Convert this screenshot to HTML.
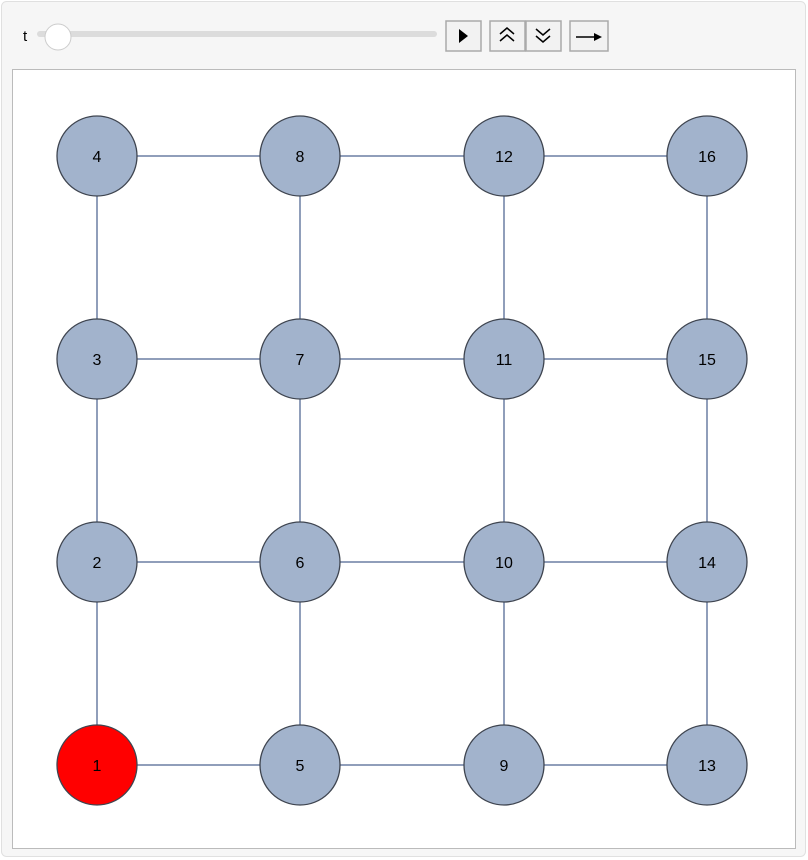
<!DOCTYPE html><html><head><style>body{margin:0;width:808px;height:860px;background:#fff;font-family:"Liberation Sans",sans-serif;overflow:hidden}</style></head><body>
<svg width="808" height="860" xmlns="http://www.w3.org/2000/svg" style="position:absolute;left:0;top:0">
<rect x="1.5" y="1.5" width="804" height="855" rx="5" fill="#f6f6f6" stroke="#e0e0e0"/>
<text x="23" y="41" font-size="15" font-family="Liberation Sans">t</text>
<rect x="37" y="31" width="400" height="6" rx="3" fill="#dcdcdc"/>
<circle cx="58" cy="37" r="13" fill="#fff" stroke="#ccc"/>
<g fill="#f2f2f2" stroke="#aaa" stroke-width="1.5">
<rect x="446" y="21" width="35" height="30"/><rect x="490" y="21" width="35" height="30"/><rect x="526" y="21" width="35" height="30"/><rect x="570" y="21" width="38" height="30"/></g>
<path d="M459 29 L468 36 L459 43 Z" fill="#000"/>
<g fill="none" stroke="#000" stroke-width="1.5"><path d="M500 34 L507 28 L514 34 M500 41 L507 35 L514 41"/><path d="M536 29 L543 35 L550 29 M536 36 L543 42 L550 36"/><path d="M576 37 L596 37"/></g>
<path d="M594 33 L602 37 L594 41 Z" fill="#000"/>
<rect x="12.5" y="69.5" width="783" height="779" fill="#fff" stroke="#bbb"/>
<g stroke="#6b7fa3" stroke-width="1.5">
<line x1="97" y1="156" x2="707" y2="156"/><line x1="97" y1="359" x2="707" y2="359"/><line x1="97" y1="562" x2="707" y2="562"/><line x1="97" y1="765" x2="707" y2="765"/>
<line x1="97" y1="156" x2="97" y2="765"/><line x1="300" y1="156" x2="300" y2="765"/><line x1="504" y1="156" x2="504" y2="765"/><line x1="707" y1="156" x2="707" y2="765"/>
</g>
<g stroke="#3f4550" stroke-width="1.3" fill="#a2b3cc">
<circle cx="97" cy="765" r="40" fill="#ff0000"/><circle cx="97" cy="562" r="40"/><circle cx="97" cy="359" r="40"/><circle cx="97" cy="156" r="40"/>
<circle cx="300" cy="765" r="40"/><circle cx="300" cy="562" r="40"/><circle cx="300" cy="359" r="40"/><circle cx="300" cy="156" r="40"/>
<circle cx="504" cy="765" r="40"/><circle cx="504" cy="562" r="40"/><circle cx="504" cy="359" r="40"/><circle cx="504" cy="156" r="40"/>
<circle cx="707" cy="765" r="40"/><circle cx="707" cy="562" r="40"/><circle cx="707" cy="359" r="40"/><circle cx="707" cy="156" r="40"/>
</g>
<g font-size="16" text-anchor="middle" font-family="Liberation Sans" fill="#000">
<text x="97" y="771">1</text><text x="97" y="568">2</text><text x="97" y="365">3</text><text x="97" y="162">4</text>
<text x="300" y="771">5</text><text x="300" y="568">6</text><text x="300" y="365">7</text><text x="300" y="162">8</text>
<text x="504" y="771">9</text><text x="504" y="568">10</text><text x="504" y="365">11</text><text x="504" y="162">12</text>
<text x="707" y="771">13</text><text x="707" y="568">14</text><text x="707" y="365">15</text><text x="707" y="162">16</text>
</g>
</svg></body></html>
